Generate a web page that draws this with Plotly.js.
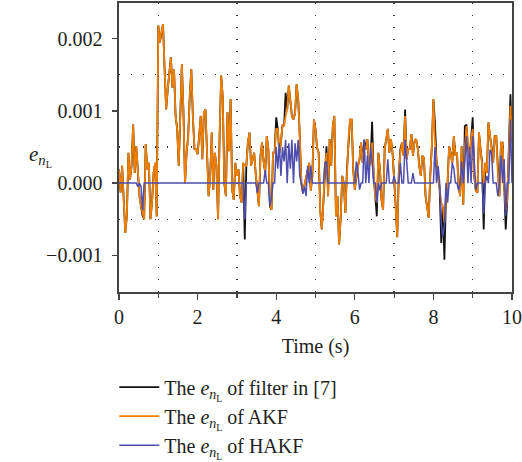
<!DOCTYPE html>
<html>
<head>
<meta charset="utf-8">
<script src="https://cdn.plot.ly/plotly-3.0.1.min.js"></script>
<style>html,body{margin:0;padding:0;background:#fff;}#chart{width:522px;height:462px;}</style>
</head>
<body>
<div id="chart"></div>
<script>
// Time axis: samples every 0.04 s from 0 to 10 s; values in units of 1e-3
const timeStart = 0;
const timeStep = 0.04;

const akf = [
 0.19,-0.13,0.24,-0.32,-0.69,-0.45,0.42,0.05,0.24,0.81,
 0.14,0.51,0.19,-0.18,-0.32,-0.41,-0.5,0.54,0.19,0.28,
 -0.5,-0.27,0.14,0.28,-0.46,2.18,1.95,2.1,2.2,1.58,
 1.02,1.3,1.53,1.74,1.32,1.58,0.93,0.75,0.24,1.07,
 1.65,0.98,0,0.42,0.65,1.2,1.58,0.93,0.47,0.47,
 0.4,0.65,0.93,0.33,0.97,1.02,0.47,-0.18,0.1,0.7,
 -0.09,0.42,0.24,-0.5,0.65,1.49,1.19,0,-0.18,0.98,
 0.44,1.16,-0.09,-0.23,0.28,0.1,0.19,-0.18,-0.27,0.28,
 0.24,0.24,0.56,0.7,0.24,0.33,0.42,0.12,-0.09,-0.32,
 0.38,0.56,0.3,0.14,0.65,0.47,-0.27,-0.37,0.42,0.42,
 0.75,0.75,0.42,0.56,0.81,0.79,0.93,1.02,1.35,1.16,
 0.93,0.88,0.97,1.37,1.16,0.65,0,-0.13,-0.02,0.05,
 0.19,0.28,-0.1,0.1,0.88,0.75,0.49,0.42,-0.37,-0.64,
 -0.27,0.24,0.42,-0.18,0.61,0.24,0.79,0.93,-0.46,-0.18,
 -0.85,-0.5,0.1,0,-0.41,0.19,0.61,0.88,0.88,0.19,
 -0.09,0.12,0.24,0.33,0.56,0.28,0.47,0.47,0.61,0.24,
 0.28,0.56,0.1,-0.18,-0.27,0.42,0.19,-0.23,-0.37,0.47,
 0.61,0.75,0.42,0.61,0.42,0.1,-0.32,-0.75,0.14,0.42,
 0.56,0.38,0.93,0.33,0.47,0.47,0.68,0.38,0.58,0.61,
 0.49,0.24,0.1,0.38,0.35,-0.18,-0.37,-0.48,0.1,0.51,
 1.16,0.56,0.3,0.12,-0.04,-0.27,-0.32,-0.55,-0.18,0,
 0.51,0.38,0.28,0.65,0.38,0.42,-0.04,-0.18,0.51,-0.3,
 0.47,0.79,0.49,0.33,0.61,0.75,0.1,-0.11,-0.13,0.7,
 0.47,0.28,0,0.28,0.14,0.84,0.65,0.51,0.28,0.65,
 0.65,0.14,-0.18,0.56,0.56,0,-0.37,-0.23,0.42,1.07,0.56
];

const filter7 = [
 0.19,-0.13,0.24,-0.32,-0.69,-0.45,0.42,0.05,0.24,0.81,
 0.14,0.51,0.19,-0.18,-0.32,-0.45,-0.5,0.54,0.19,0.28,
 -0.5,-0.27,0.14,0.28,-0.46,2.18,1.95,2.1,2.2,1.58,
 1.02,1.3,1.53,1.74,1.32,1.58,0.93,0.75,0.24,1.07,
 1.65,0.98,0,0.42,0.65,1.2,1.58,0.93,0.47,0.47,
 0.4,0.65,0.93,0.33,0.97,1.02,0.47,-0.18,0.1,0.7,
 -0.09,0.42,0.24,-0.5,0.65,1.49,1.19,0,-0.18,0.98,
 0.44,1.16,-0.09,-0.23,0.28,0.1,0.19,-0.18,-0.27,0.28,
 -0.78,0.24,0.56,0.7,0.24,0.33,0.42,0.12,-0.09,-0.32,
 0.38,0.56,0.3,0.14,0.65,0.47,-0.32,-0.37,0.42,0.42,
 0.91,0.75,0.42,0.56,0.81,0.79,1.25,1.02,1.35,1.16,
 0.93,0.88,0.97,1.37,1.16,0.65,0,-0.13,-0.02,0.05,
 0.19,0.28,-0.1,0.1,0.88,0.75,0.49,0.42,-0.37,-0.64,
 -0.27,0.24,0.51,-0.18,0.61,0.24,0.79,0.93,-0.46,-0.18,
 -0.85,-0.5,0.1,0,-0.41,0.19,0.61,0.88,0.88,0.19,
 -0.09,0.12,0.24,0.33,0.56,0.28,0.6,0.47,0.61,0.24,
 0.28,0.85,0.1,-0.18,-0.46,0.42,0.19,-0.23,-0.37,0.47,
 0.61,0.75,0.42,0.61,0.42,0.1,-0.32,-0.75,0.14,0.47,
 0.56,0.38,1.02,0.33,0.47,0.47,0.68,0.38,0.58,0.61,
 0.49,0.24,0.1,0.38,0.35,-0.18,-0.37,-0.48,0.1,0.51,
 1.16,0.84,0.3,0.12,-0.09,-0.83,-0.32,-1.06,-0.18,0,
 0.51,0.42,0.28,0.65,0.38,0.42,-0.04,-0.18,0.51,-0.3,
 0.79,0.81,0.49,0.33,0.61,0.91,0.1,-0.11,-0.13,0.7,
 0.47,0.28,-0.64,0.28,0.14,0.84,0.65,0.51,0.28,0.65,
 0.65,0.14,-0.18,0.56,0.56,0,-0.64,-0.23,0.42,1.23,0.56
];

const hakf = [
 0,0,0,0,0,0,0,0,0,0,
 0,0,-0.05,0,-0.05,-0.37,0,0,0,0,
 0,0,0,0,0,0,0,0,0,0,
 0,0,0,0,0,0,0,0,0,0,
 0,0,0,0,0,0,0,0,0,0,
 0,0,0,0,0,0,0,0,0,0,
 0,0,0,0,0,0,0,0,0,0,
 0,0,0,0,0,0,0,0,0,0,
 -0.5,0,0,0,0,0,0,0,-0.13,0,
 0,0,0,0.18,0,0,-0.32,-0.2,0,0,
 0.5,0.2,0.55,0.1,0.5,0.3,0.6,0,0.55,0.2,
 0.6,0,0.55,0.3,0.6,0.1,0,-0.15,-0.05,-0.18,
 0.24,0,0.24,0,0,0,0,0,0,0,
 0,0.28,0.3,0,0,0,0,0,0,0,
 0,0,0,0,0,0,0,0,0,0,
 0,0.3,0.15,-0.09,0,0,0.6,0,0.38,0,
 0.5,0.3,0,0,-0.27,0,-0.1,0,0,0,
 0,0.33,0,0,0,0.1,0,0,0,0.28,
 0,0,0.6,0.3,0,0,0,0.14,0,0,
 0,0,0,0,0,0,0,0,0,0,
 0,0.5,0,0.24,0,-0.55,-0.74,-0.6,0,-0.27,
 0,0,0.28,0.2,0,0,-0.1,0,0.3,0,
 0.42,0.65,0,0.5,0,0.65,0.3,-0.09,0,0,
 0,0,-0.42,0,0.1,0,0.46,0.42,0,0,
 0,-0.18,0,0.38,0,0.33,-0.45,0,0,0.88,0
];

const seriesNames = [
  'The <i>e</i><sub><i>n</i><sub>L</sub></sub> of filter in [7]',
  'The <i>e</i><sub><i>n</i><sub>L</sub></sub> of AKF',
  'The <i>e</i><sub><i>n</i><sub>L</sub></sub> of HAKF'
];
const yTickVals = [-1, 0, 1, 2];
const yTickText = ['\u22120.001', '0.000', '0.001', '0.002'];
const yMinorVals = [-0.5, 0.5, 1.5];
const xMinorVals = [1, 3, 5, 7, 9];

const FONT = 'Liberation Serif, Times New Roman, serif';

const traces = [
  {y: filter7, x0: timeStart, dx: timeStep, type: 'scatter', mode: 'lines', name: seriesNames[0],
   line: {color: '#111111', width: 1.8}},
  {y: akf, x0: timeStart, dx: timeStep, type: 'scatter', mode: 'lines', name: seriesNames[1],
   line: {color: '#F07F00', width: 1.8}},
  {y: hakf, x0: timeStart, dx: timeStep, type: 'scatter', mode: 'lines', name: seriesNames[2],
   line: {color: '#4E4EAE', width: 1.5}}
];

const layout = {
  width: 522, height: 462,
  margin: {l: 119, r: 10, t: 3, b: 170, autoexpand: false},
  paper_bgcolor: '#fff', plot_bgcolor: '#fff',
  font: {family: FONT, size: 20, color: '#231f20'},
  showlegend: true,
  legend: {x: -0.012, xanchor: 'left', y: -0.262, yanchor: 'top', orientation: 'v',
           font: {family: FONT, size: 20, color: '#231f20'}, bgcolor: 'rgba(0,0,0,0)',
           itemwidth: 40, tracegroupgap: 0},
  xaxis: {
    range: [0, 10], tickmode: 'linear', tick0: 0, dtick: 2,
    ticks: 'outside', ticklen: 6, tickwidth: 1.3, tickcolor: '#444',
    showline: true, linecolor: '#444', linewidth: 1.6, mirror: true,
    showgrid: false, zeroline: false,
    tickfont: {family: FONT, size: 20, color: '#231f20'},
    title: {text: 'Time (s)', font: {family: FONT, size: 20, color: '#231f20'}, standoff: 12},
    minor: {tickmode: 'array', tickvals: xMinorVals, ticks: 'outside', ticklen: 4, tickwidth: 1.2, tickcolor: '#444',
            showgrid: true, gridcolor: '#333', gridwidth: 1.4, griddash: '1.4px,10.6px'}
  },
  yaxis: {
    range: [-1.507, 2.493], tickmode: 'array', tickvals: yTickVals, ticktext: yTickText,
    ticks: 'outside', ticklen: 5, tickwidth: 1.3, tickcolor: '#444',
    showline: true, linecolor: '#444', linewidth: 1.6, mirror: true,
    showgrid: false, zeroline: false, ticklabelstandoff: 6,
    tickfont: {family: FONT, size: 20, color: '#231f20'},
    minor: {tickmode: 'array', tickvals: yMinorVals, ticks: '',
            showgrid: true, gridcolor: '#333', gridwidth: 1.4, griddash: '1.4px,10.6px'}
  },
  annotations: [{
    text: '<i>e</i><sub><i>n</i><sub>L</sub></sub>', xref: 'paper', yref: 'paper',
    x: -0.235, xanchor: 'left', y: 0.47, yanchor: 'middle', showarrow: false,
    font: {family: FONT, size: 21, color: '#231f20'}
  }]
};

Plotly.newPlot('chart', traces, layout, {staticPlot: true, displayModeBar: false});
</script>
</body>
</html>
